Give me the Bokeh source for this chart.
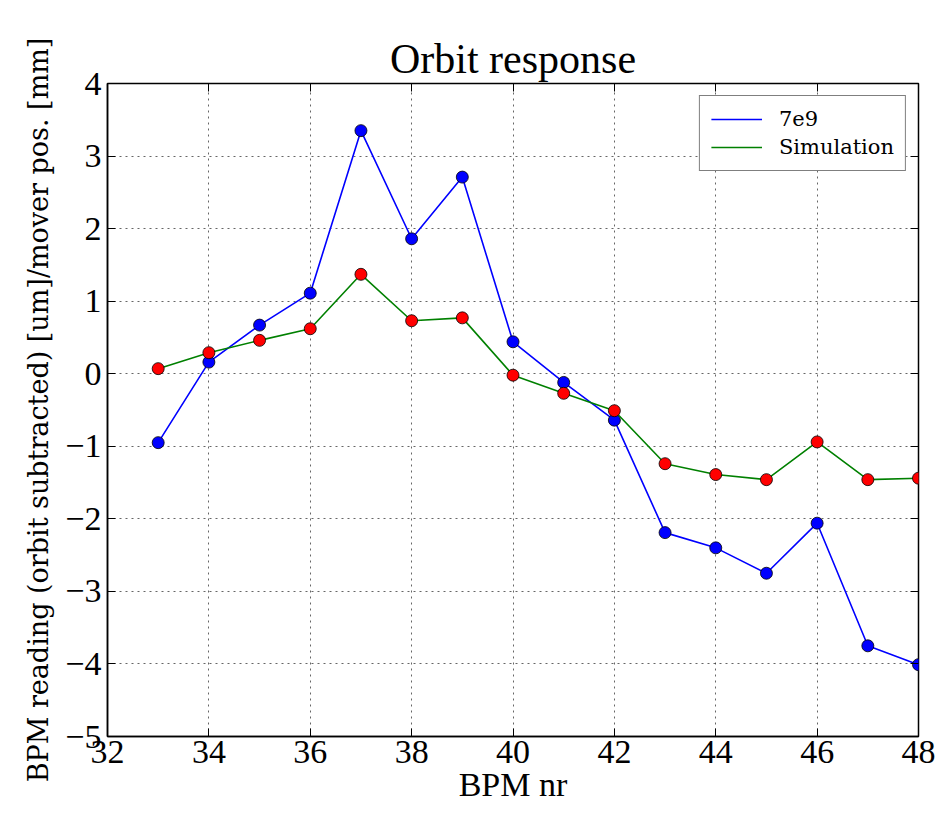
from bokeh.plotting import figure
from bokeh.models import (LinearAxis, FixedTicker, CustomJSTickFormatter, Range1d,
                          Legend, LegendItem)
from bokeh.embed import file_html
from bokeh.resources import INLINE

bpm = [33, 34, 35, 36, 37, 38, 39, 40, 41, 42, 43, 44, 45, 46, 47, 48]
meas_7e9 = [-0.95, 0.16, 0.67, 1.11, 3.35, 1.86, 2.71, 0.44, -0.12, -0.64,
            -2.19, -2.40, -2.75, -2.06, -3.75, -4.01]
simulation = [0.07, 0.29, 0.46, 0.62, 1.37, 0.73, 0.77, -0.02, -0.27, -0.51,
              -1.24, -1.39, -1.46, -0.94, -1.46, -1.44]
x_ticks = [32, 34, 36, 38, 40, 42, 44, 46, 48]
y_ticks = [-5, -4, -3, -2, -1, 0, 1, 2, 3, 4]

FONT = "Liberation Serif"

p = figure(width=937, height=814, output_backend="svg", toolbar_location=None,
           x_range=Range1d(32, 48), y_range=Range1d(-5, 4),
           min_border_left=107, min_border_right=19, min_border_top=83,
           min_border_bottom=78,
           title="Orbit response")
p.background_fill_color = "white"
p.border_fill_color = "white"
p.outline_line_color = "black"
p.outline_line_width = 1.5

p.title.align = "center"
p.title.text_font = FONT
p.title.text_font_size = "42px"
p.title.text_font_style = "normal"
p.title.text_color = "black"
p.title.standoff = 4

fmt = CustomJSTickFormatter(code="return tick < 0 ? '\u2212' + Math.abs(tick) : String(tick);")
blank = CustomJSTickFormatter(code="return '';")

for ax, ticks in ((p.xaxis[0], x_ticks), (p.yaxis[0], y_ticks)):
    ax.ticker = FixedTicker(ticks=ticks)
    ax.formatter = fmt
    ax.major_label_text_font = FONT
    ax.major_label_text_font_size = "34px"
    ax.major_label_text_color = "black"
    ax.axis_label_text_font = FONT
    ax.axis_label_text_font_size = "34px"
    ax.axis_label_text_font_style = "normal"
    ax.axis_label_text_color = "black"
    ax.major_tick_in = 8
    ax.major_tick_out = 0
    ax.minor_tick_line_color = None
    ax.axis_line_color = "black"
    ax.axis_line_width = 1.5
    ax.major_tick_line_color = "black"

p.xaxis[0].axis_label = "BPM nr"
p.xaxis[0].major_label_standoff = 4
p.xaxis[0].axis_label_standoff = 0
p.yaxis[0].axis_label = "BPM reading (orbit subtracted) [um]/mover pos. [mm]"
p.yaxis[0].axis_label_text_font = "DejaVu Serif"
p.yaxis[0].axis_label_text_font_size = "27px"
p.yaxis[0].major_label_standoff = 6
p.yaxis[0].axis_label_standoff = 8

for loc, ticks in (("right", y_ticks), ("above", x_ticks)):
    a = LinearAxis(ticker=FixedTicker(ticks=ticks), formatter=blank)
    a.major_label_text_font = FONT
    a.major_label_standoff = 0
    a.major_tick_in = 8
    a.major_tick_out = 0
    a.minor_tick_line_color = None
    a.axis_line_color = None
    a.major_tick_line_color = "black"
    p.add_layout(a, loc)

p.xgrid.ticker = FixedTicker(ticks=x_ticks)
p.ygrid.ticker = FixedTicker(ticks=y_ticks)
for g in (p.xgrid[0], p.ygrid[0]):
    g.grid_line_color = "black"
    g.grid_line_alpha = 0.6
    g.grid_line_dash = "2 4"
    g.grid_line_width = 1

l1 = p.line(bpm, meas_7e9, line_color="#0000ff", line_width=1.6)
p.scatter(bpm, meas_7e9, size=12, fill_color="#0000ff", line_color="black", line_width=0.8)
l2 = p.line(bpm, simulation, line_color="#008000", line_width=1.6)
p.scatter(bpm, simulation, size=12, fill_color="#ff0000", line_color="black", line_width=0.8)

legend = Legend(items=[LegendItem(label="7e9", renderers=[l1]),
                       LegendItem(label="Simulation", renderers=[l2])],
                location="top_right")
legend.label_text_font = "DejaVu Serif"
legend.label_text_font_size = "21px"
legend.label_text_color = "black"
legend.border_line_color = "black"
legend.border_line_width = 1.5
legend.background_fill_alpha = 1
legend.margin = 12
legend.padding = 11
legend.spacing = 4
legend.glyph_width = 51
legend.label_standoff = 17
legend.label_height = 24
legend.glyph_height = 24
p.add_layout(legend)

open("out.html", "w").write(file_html(p, INLINE))
